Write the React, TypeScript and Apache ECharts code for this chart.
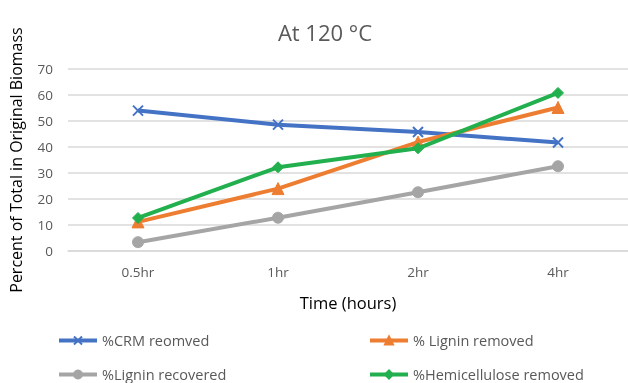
import React, { useEffect, useRef } from "react";
import * as echarts from "echarts";

const categories = ["0.5hr", "1hr", "2hr", "4hr"];
const crmRemoved = [54.0, 48.6, 45.8, 41.7];
const ligninRemoved = [11.2, 24.0, 41.9, 55.2];
const ligninRecovered = [3.4, 12.8, 22.6, 32.6];
const hemiRemoved = [12.7, 32.2, 39.5, 60.8];
const seriesNames = ["%CRM reomved", "% Lignin removed", "%Lignin recovered", "%Hemicellulose removed"];
const yTicks = { min: 0, max: 70, interval: 10 };

const FONT = "'Open Sans', sans-serif";
const GRAY = "#595959";
const colors = ["#4472C4", "#ED7D31", "#A5A5A5", "#22B04E"];
const symbols = ["path://M0,0L10,10M10,0L0,10", "triangle", "circle", "diamond"];
const symbolSizes = [10, 12, 11, 11];

export default function App() {
  const ref = useRef<HTMLDivElement>(null);
  useEffect(() => {
    if (!ref.current) return;
    document.body.style.margin = "0";
    document.body.style.overflow = "hidden";
    const chart = echarts.init(ref.current, null, { renderer: "svg" });
    const datasets = [crmRemoved, ligninRemoved, ligninRecovered, hemiRemoved];
    const legendPos = [
      { left: 52, top: 328 },
      { left: 363, top: 328 },
      { left: 52, top: 362 },
      { left: 363, top: 362 },
    ];
    chart.setOption({
      animation: false,
      title: {
        text: "At 120 °C",
        left: 320,
        textAlign: "center",
        top: 16,
        textStyle: { fontFamily: FONT, fontSize: 22, fontWeight: "normal", color: GRAY },
      },
      grid: { left: 68, top: 69, width: 568, height: 182, containLabel: false },
      legend: legendPos.map((p, i) => ({
        left: p.left,
        top: p.top,
        data: [seriesNames[i]],
        itemWidth: 38,
        itemHeight: 10,
        itemGap: 4,
        lineStyle: { width: 4 },
        textStyle: { fontFamily: FONT, fontSize: 14.5, color: GRAY },
      })),
      xAxis: {
        type: "category",
        data: categories,
        boundaryGap: true,
        axisLine: { show: true, lineStyle: { color: "#d9d9d9", width: 1.5 } },
        axisTick: { show: false },
        axisLabel: { fontFamily: FONT, fontSize: 13.5, color: GRAY, margin: 14 },
        name: "Time (hours)",
        nameLocation: "middle",
        nameGap: 43,
        nameTextStyle: { fontFamily: FONT, fontSize: 16.5, color: "#000" },
      },
      yAxis: {
        type: "value",
        min: yTicks.min,
        max: yTicks.max,
        interval: yTicks.interval,
        axisLine: { show: false },
        axisTick: { show: false },
        splitLine: { lineStyle: { color: "#d9d9d9", width: 1.5 } },
        axisLabel: { fontFamily: FONT, fontSize: 13.5, color: GRAY, margin: 15 },
        name: "Percent of Total in Original Biomass",
        nameLocation: "middle",
        nameRotate: 90,
        nameGap: 44,
        nameTextStyle: { fontFamily: FONT, fontSize: 16, color: "#000" },
      },
      series: datasets.map((d, i) => ({
        name: seriesNames[i],
        type: "line",
        data: d,
        symbol: symbols[i],
        symbolSize: symbolSizes[i],
        showSymbol: true,
        lineStyle: { color: colors[i], width: 4 },
        itemStyle: i === 0
          ? { color: "none", borderColor: colors[i], borderWidth: 2 }
          : { color: colors[i], borderColor: colors[i], borderWidth: 1 },
        z: [2, 3, 2, 4][i],
      })),
    });
    return () => chart.dispose();
  }, []);
  return <div ref={ref} style={{ position: "fixed", left: 0, top: 0, width: 628, height: 383 }} />;
}
